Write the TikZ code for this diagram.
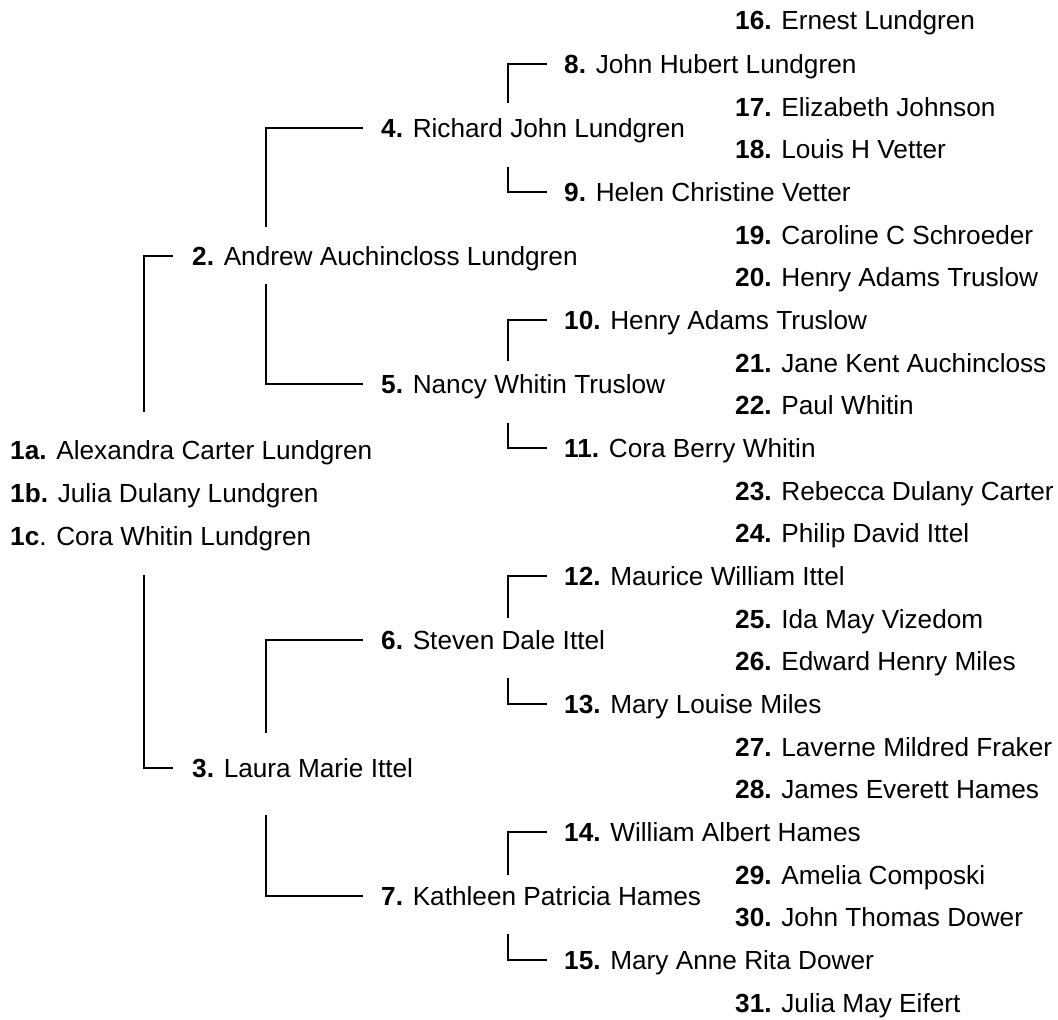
\documentclass[tikz,border=0pt]{standalone}
\usepackage{fontspec}
\setmainfont{Liberation Sans}
\usetikzlibrary{calc}
\begin{document}
\begin{tikzpicture}[x=1pt,y=-1pt,
  person/.style={anchor=west,inner sep=0pt,text height=25pt,text depth=6pt,
    font=\fontsize{26.2}{30}\selectfont},
  link/.style={draw=black,line width=1.6pt}]
\useasboundingbox (0,0) rectangle (1058,1020);
% generation 1
\node[person] (n1a) at (10,450) {\textbf{1a.} Alexandra Carter Lundgren};
\node[person] (n1b) at (10,493) {\textbf{1b.} Julia Dulany Lundgren};
\node[person] (n1c) at (10,536) {\textbf{1c}. Cora Whitin Lundgren};
% generation 2
\node[person] (n2) at (192,256) {\textbf{2.} Andrew Auchincloss Lundgren};
\node[person] (n3) at (192,768) {\textbf{3.} Laura Marie Ittel};
% generation 3
\node[person] (n4) at (381,128) {\textbf{4.} Richard John Lundgren};
\node[person] (n5) at (381,384) {\textbf{5.} Nancy Whitin Truslow};
\node[person] (n6) at (381,640) {\textbf{6.} Steven Dale Ittel};
\node[person] (n7) at (381,896) {\textbf{7.} Kathleen Patricia Hames};
% generation 4
\node[person] (n8) at (564,64) {\textbf{8.} John Hubert Lundgren};
\node[person] (n9) at (564,192) {\textbf{9.} Helen Christine Vetter};
\node[person] (n10) at (564,320) {\textbf{10.} Henry Adams Truslow};
\node[person] (n11) at (564,448) {\textbf{11.} Cora Berry Whitin};
\node[person] (n12) at (564,576) {\textbf{12.} Maurice William Ittel};
\node[person] (n13) at (564,704) {\textbf{13.} Mary Louise Miles};
\node[person] (n14) at (564,832) {\textbf{14.} William Albert Hames};
\node[person] (n15) at (564,960) {\textbf{15.} Mary Anne Rita Dower};
% generation 5
\node[person] (n16) at (735,20) {\textbf{16.} Ernest Lundgren};
\node[person] (n17) at (735,107) {\textbf{17.} Elizabeth Johnson};
\node[person] (n18) at (735,149) {\textbf{18.} Louis H Vetter};
\node[person] (n19) at (735,235) {\textbf{19.} Caroline C Schroeder};
\node[person] (n20) at (735,277) {\textbf{20.} Henry Adams Truslow};
\node[person] (n21) at (735,363) {\textbf{21.} Jane Kent Auchincloss};
\node[person] (n22) at (735,405) {\textbf{22.} Paul Whitin};
\node[person] (n23) at (735,491) {\textbf{23.} Rebecca Dulany Carter};
\node[person] (n24) at (735,533) {\textbf{24.} Philip David Ittel};
\node[person] (n25) at (735,619) {\textbf{25.} Ida May Vizedom};
\node[person] (n26) at (735,661) {\textbf{26.} Edward Henry Miles};
\node[person] (n27) at (735,747) {\textbf{27.} Laverne Mildred Fraker};
\node[person] (n28) at (735,789) {\textbf{28.} James Everett Hames};
\node[person] (n29) at (735,875) {\textbf{29.} Amelia Composki};
\node[person] (n30) at (735,917) {\textbf{30.} John Thomas Dower};
\node[person] (n31) at (735,1003) {\textbf{31.} Julia May Eifert};
% connectors: generation 1 -> 2
\draw[link] ($(n2.west)+(-19,0)$) -| ($(n1a.west)+(134,-38)$);
\draw[link] ($(n3.west)+(-19,0)$) -| ($(n1c.west)+(134,39)$);
% generation 2 -> 3
\draw[link] ($(n4.west)+(-18,0)$) -| ($(n2.west)+(74,-29)$);
\draw[link] ($(n5.west)+(-18,0)$) -| ($(n2.west)+(74,28)$);
\draw[link] ($(n6.west)+(-18,0)$) -| ($(n3.west)+(74,-35)$);
\draw[link] ($(n7.west)+(-18,0)$) -| ($(n3.west)+(74,47)$);
% generation 3 -> 4
\draw[link] ($(n8.west)+(-17,0)$) -| ($(n4.west)+(127,-25)$);
\draw[link] ($(n9.west)+(-17,0)$) -| ($(n4.west)+(127,39)$);
\draw[link] ($(n10.west)+(-17,0)$) -| ($(n5.west)+(127,-23)$);
\draw[link] ($(n11.west)+(-17,0)$) -| ($(n5.west)+(127,39)$);
\draw[link] ($(n12.west)+(-17,0)$) -| ($(n6.west)+(127,-22)$);
\draw[link] ($(n13.west)+(-17,0)$) -| ($(n6.west)+(127,38)$);
\draw[link] ($(n14.west)+(-17,0)$) -| ($(n7.west)+(127,-21)$);
\draw[link] ($(n15.west)+(-17,0)$) -| ($(n7.west)+(127,38)$);
\end{tikzpicture}
\end{document}
